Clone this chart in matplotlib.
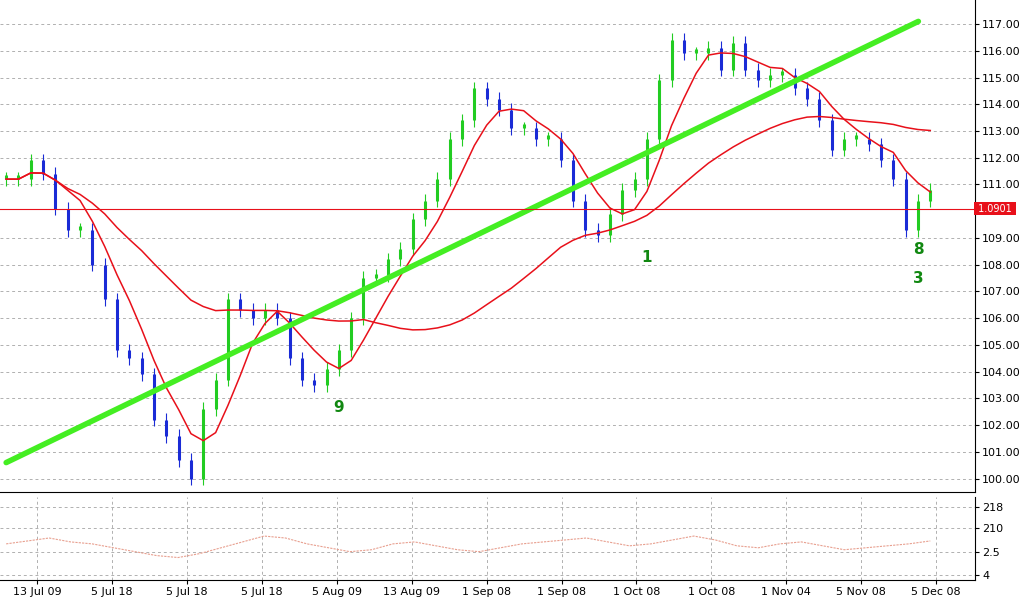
import matplotlib
matplotlib.use("Agg")
import matplotlib.pyplot as plt
import numpy as np
import pandas as pd

closes = [111.2,111.2,111.9,111.4,110.1,109.3,109.3,108.0,106.7,104.8,104.5,103.9,102.2,101.6,100.7,100.0,
          102.6,103.7,106.7,106.3,106.0,106.3,106.0,104.5,103.7,103.5,104.1,104.8,106.0,107.5,107.6,108.2,
          108.6,109.7,110.4,111.2,112.7,113.4,114.6,114.2,113.8,113.1,113.1,112.7,112.7,111.9,110.4,109.3,
          109.1,109.9,110.8,111.2,112.7,114.9,116.4,115.9,115.9,116.1,115.3,116.3,115.3,114.9,115.1,115.1,
          114.6,114.2,113.4,112.3,112.7,112.7,112.5,111.9,111.2,109.3,110.4,110.8]
osc = [548,545,542,546,548,552,556,560,562,558,552,546,540,542,548,552,556,554,548,546,550,554,556,552,
       548,546,544,542,546,550,548,544,540,544,550,552,548,546,550,554,552,550,548,545]
trend_start, trend_end = 100.6, 117.1
hline = 110.1
yticks = [100+i for i in range(18) if i != 10]
xlabels = ["13 Jul 09","5 Jul 18","5 Jul 18","5 Jul 18","5 Aug 09","13 Aug 09","1 Sep 08",
           "1 Sep 08","1 Oct 08","1 Oct 08","1 Nov 04","5 Nov 08","5 Dec 08"]
osc_ticks = ["218","210","2.5","4"]

n = len(closes)
x = np.arange(n)
opens = [closes[0]] + closes[:-1]
s = pd.Series(closes)
fast = s.rolling(5, min_periods=1).mean()
slow = s.rolling(30, min_periods=1).mean()

fig = plt.figure(figsize=(10.24, 6.08), dpi=100)
ax = fig.add_axes([0.0, 1-492/608, 975/1024, 492/608])
ax2 = fig.add_axes([0.0, 1-580/608, 975/1024, 83/608])
xmax = (n-1)*975/930
for a in (ax, ax2):
    a.set_xlim(-0.5, xmax)
    a.grid(True, color="#b0b0b0", linestyle=(0, (3, 3)), linewidth=0.7)
    a.yaxis.tick_right()
    a.tick_params(axis="y", labelsize=8, length=3, pad=2)
    for sp in ("top", "left"):
        a.spines[sp].set_visible(False)

for i in range(n):
    o, c = opens[i], closes[i]
    col = "#22cc22" if c >= o else "#1a2bd6"
    lo, hi = min(o, c), max(o, c)
    ax.vlines(x[i], lo-0.25, hi+0.25, color=col, lw=0.8)
    ax.vlines(x[i], lo, hi if hi-lo > 0.1 else lo+0.15, color=col, lw=2.2)

ax.plot(x, fast, color="#e8101a", lw=1.1)
ax.plot(x, slow, color="#e8101a", lw=1.1)
ax.plot([0, (n-1)*918/930], [trend_start, trend_end], color="#44ee22", lw=4, solid_capstyle="round")
ax.axhline(hline, color="#e8101a", lw=0.8)
ax.text(1.0, hline, " 1.0901 ", transform=ax.get_yaxis_transform(), color="white", fontsize=7,
        va="center", ha="left", bbox=dict(fc="#e8101a", ec="none", pad=1), clip_on=False)
ax.set_ylim(99.5, 117.9)
ax.set_yticks(yticks)
ax.set_yticklabels([f"{v:.2f}" for v in yticks])
ax.set_xticks([])
for xi, yi, t in [(27, 102.5, "9"), (52, 108.1, "1"), (74, 108.4, "8"), (74, 107.3, "3")]:
    ax.text(xi, yi, t, color="#118811", fontsize=11, fontweight="bold", ha="center")

ax2.plot(np.linspace(0, n-1, len(osc)), osc, color="#e8a090", lw=0.8, linestyle=(0, (2, 1)))
ax2.set_ylim(585, 500)
ax2.set_yticks([510, 532, 556, 580])
ax2.set_yticklabels(osc_ticks)
ax2.set_xticks(np.linspace(2.5, xmax*0.96, len(xlabels)))
ax2.set_xticklabels(xlabels, fontsize=8)
ax2.tick_params(axis="x", length=3, pad=2)
fig.savefig("out.png", dpi=100)
